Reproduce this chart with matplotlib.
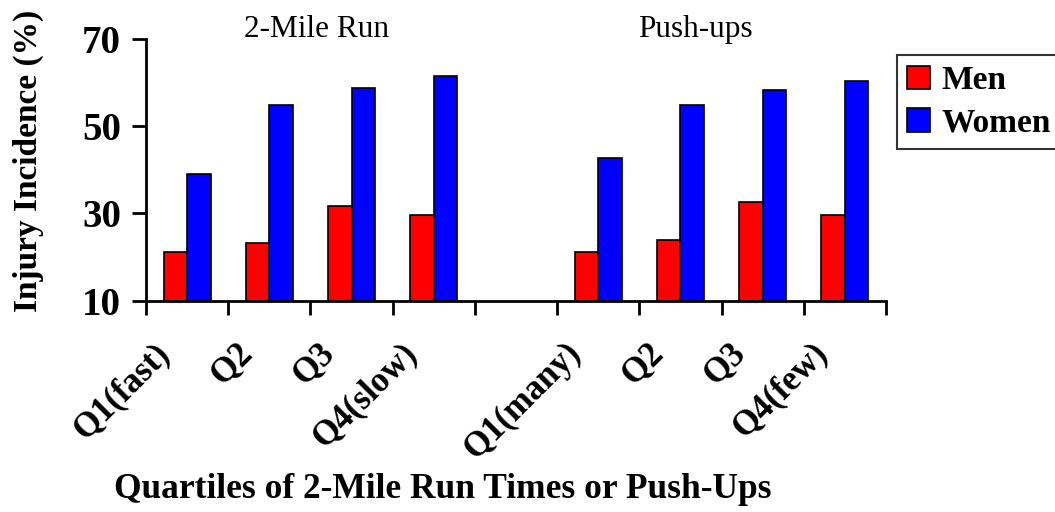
import matplotlib.pyplot as plt
import numpy as np

# values (injury incidence, %)
run_labels = ['Q1(fast)', 'Q2', 'Q3', 'Q4(slow)']
push_labels = ['Q1(many)', 'Q2', 'Q3', 'Q4(few)']
men_run = [21.1, 23.2, 31.6, 29.6]
women_run = [39.1, 54.8, 58.6, 61.4]
men_push = [21.1, 24.0, 32.7, 29.6]
women_push = [42.6, 54.8, 58.3, 60.3]

plt.rcParams['font.family'] = ['Liberation Serif', 'DejaVu Serif']

# 9 category slots, the 5th one is an empty gap between the two groups
labels = run_labels + [''] + push_labels
men = men_run + [np.nan] + men_push
women = women_run + [np.nan] + women_push
x = np.arange(len(labels))
w = 0.286

fig = plt.figure(figsize=(10.55, 5.12), dpi=100)
ax = fig.add_axes([0.1384, 0.4127, 0.7014, 0.5117])

ax.bar(x - w / 2, men, w, color='#ff0000', edgecolor='black', linewidth=1.2, label='Men')
ax.bar(x + w / 2, women, w, color='#0000ff', edgecolor='black', linewidth=1.2, label='Women')

ax.set_xlim(-0.5, len(labels) - 0.5)
ax.set_ylim(10, 70)
ax.set_yticks([10, 30, 50, 70])
ax.set_yticklabels(['10', '30', '50', '70'], fontsize=28, fontweight='bold')

# tick marks sit on category boundaries, like the spreadsheet original
ax.set_xticks(np.arange(-0.5, len(labels), 1.0))
ax.set_xticklabels([])
ax.tick_params(axis='both', direction='out', length=10, width=2)
ax.tick_params(axis='y', pad=8)

for side in ['top', 'right']:
    ax.spines[side].set_visible(False)
for side in ['left', 'bottom']:
    ax.spines[side].set_linewidth(2)

for i, lab in enumerate(labels):
    if not lab:
        continue
    ax.annotate(lab, xy=(i, 0), xycoords=('data', 'axes fraction'),
                xytext=(-34, -36), textcoords='offset pixels',
                rotation=45, rotation_mode='anchor', ha='right', va='top',
                fontsize=25, fontweight='bold')

ax.text(0.23, 1.006, '2-Mile Run', transform=ax.transAxes, ha='center', va='baseline', fontsize=22.5)
ax.text(0.742, 1.006, 'Push-ups', transform=ax.transAxes, ha='center', va='baseline', fontsize=22.5)

fig.text(0.027, 0.685, 'Injury Incidence (%)', rotation=90, ha='center', va='center',
         fontsize=24, fontweight='bold')
fig.text(0.42, 0.043, 'Quartiles of 2-Mile Run Times or Push-Ups', ha='center', va='center',
         fontsize=25.5, fontweight='bold')

leg = ax.legend(loc='upper left', bbox_to_anchor=(0.850, 0.8926), bbox_transform=fig.transFigure,
                borderaxespad=0, frameon=True, fancybox=False, edgecolor='black',
                prop={'size': 24, 'weight': 'bold'},
                handlelength=0.7, handleheight=0.7, handletextpad=0.35, borderpad=0.3, labelspacing=0.35)
leg.get_frame().set_linewidth(1.5)

fig.savefig('out.png', dpi=100, facecolor='white')
